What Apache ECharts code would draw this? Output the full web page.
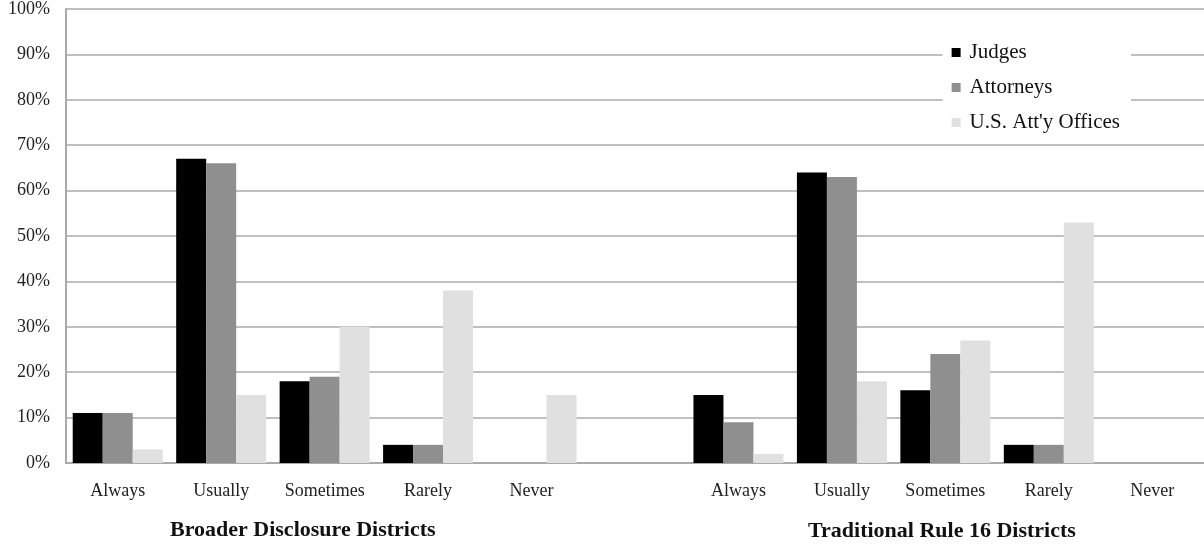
<!DOCTYPE html>
<html>
<head>
<meta charset="utf-8">
<script src="https://cdn.jsdelivr.net/npm/echarts@6/dist/echarts.min.js"></script>
<style>html,body{margin:0;padding:0;background:#fff}#c{width:1204px;height:548px}</style>
</head>
<body>
<div id="c"></div>
<script>
var categories = ['Always','Usually','Sometimes','Rarely','Never','', 'Always ','Usually ','Sometimes ','Rarely ','Never '];
var judges    = [11, 67, 18, 4, 0, null, 15, 64, 16, 4, 0];
var attorneys = [11, 66, 19, 4, 0, null, 9, 63, 24, 4, 0];
var usOffices = [3, 15, 30, 38, 15, null, 2, 18, 27, 53, 0];
var seriesNames = ['Judges', 'Attorneys', "U.S. Att'y Offices"];
var groupLabels = ['Broader Disclosure Districts', 'Traditional Rule 16 Districts'];
var yTicks = [0,10,20,30,40,50,60,70,80,90,100];

var font = 'Liberation Serif';
var chart = echarts.init(document.getElementById('c'));
var colors = ['#000000', '#8f8f8f', '#e0e0e0'];
function mk(name, data, i) {
  return {
    name: name, type: 'bar', data: data, barGap: '0%', barCategoryGap: '13%',
    itemStyle: { color: colors[i], borderWidth: 0 },
    z: 3
  };
}
chart.setOption({
  animation: false,
  backgroundColor: '#fff',
  textStyle: { fontFamily: font },
  grid: { left: 66, right: 0, top: 9, bottom: 85, containLabel: false },
  legend: {
    orient: 'vertical', right: 73, top: 34,
    padding: [8, 11, 8, 9],
    backgroundColor: '#fff',
    itemWidth: 9, itemHeight: 9, itemGap: 14,
    icon: 'rect',
    textStyle: { fontFamily: font, fontSize: 21, color: '#111', padding: [0,0,0,4] },
    data: seriesNames, z: 10
  },
  xAxis: {
    type: 'category', data: categories,
    axisLine: { show: true, lineStyle: { color: '#aaa', width: 2 } },
    axisTick: { show: false },
    axisLabel: { interval: 0, fontFamily: font, fontSize: 18, color: '#222', margin: 19,
      formatter: function (v) { return v.trim(); } }
  },
  yAxis: {
    type: 'value', min: 0, max: 100, interval: 10,
    axisLine: { show: true, lineStyle: { color: '#aaa', width: 2 } },
    axisTick: { show: false },
    splitLine: { lineStyle: { color: '#aaa', width: 1.5 } },
    axisLabel: { fontFamily: font, fontSize: 18, color: '#222', margin: 16,
      formatter: function (v) { return yTicks.indexOf(v) >= 0 ? v + '%' : ''; } }
  },
  graphic: [
    { type: 'text', left: 170, top: 519, style: { text: groupLabels[0], font: 'bold 22px "Liberation Serif"', fill: '#111' } },
    { type: 'text', left: 808, top: 520, style: { text: groupLabels[1], font: 'bold 22px "Liberation Serif"', fill: '#111' } }
  ],
  series: [mk(seriesNames[0], judges, 0), mk(seriesNames[1], attorneys, 1), mk(seriesNames[2], usOffices, 2)]
});
</script>
</body>
</html>
